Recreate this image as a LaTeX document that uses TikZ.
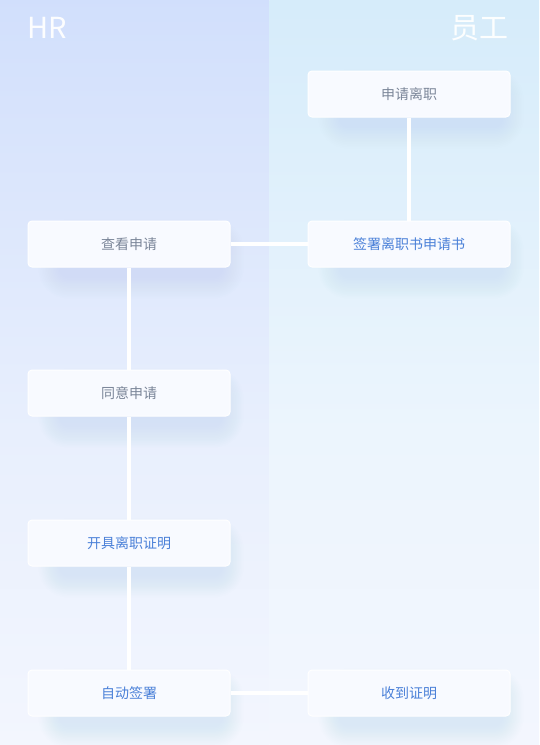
\documentclass[tikz,border=0pt]{standalone}
\usepackage{fontspec}
\newfontfamily\cjk{Noto Sans CJK SC}
\usetikzlibrary{positioning}
\pgfdeclarelayer{background}
\pgfdeclarelayer{edges}
\pgfsetlayers{background,edges,main}
\definecolor{leftTop}{HTML}{BDD2FA}
\definecolor{leftA}{HTML}{D7E3FC}
\definecolor{leftB}{HTML}{E8EFFD}
\definecolor{rightTop}{HTML}{C2E3F7}
\definecolor{rightA}{HTML}{DBEEFB}
\definecolor{rightB}{HTML}{ECF5FD}
\definecolor{lowC}{HTML}{F3F6FE}
\definecolor{bottomC}{HTML}{F8FAFF}
\definecolor{boxFill}{HTML}{F8FAFF}
\definecolor{grayText}{HTML}{7A8598}
\definecolor{blueText}{HTML}{4A80D8}
\definecolor{shadowC}{HTML}{9FBDF6}
\pgfdeclareverticalshading{leftshade}{100bp}{color(0bp)=(bottomC); color(25bp)=(lowC); color(46bp)=(leftB); color(68bp)=(leftA); color(100bp)=(leftTop)}
\pgfdeclareverticalshading{rightshade}{100bp}{color(0bp)=(bottomC); color(25bp)=(lowC); color(46bp)=(rightB); color(68bp)=(rightA); color(100bp)=(rightTop)}
\tikzset{
  stepbox/.style={draw=white, line width=1pt, fill=boxFill, rounded corners=4pt,
    minimum width=202pt, minimum height=46pt, inner sep=0pt, font=\cjk\fontsize{14}{16}\selectfont},
  graytxt/.style={text=grayText},
  bluetxt/.style={text=blueText},
  link/.style={draw=white, line width=4pt},
  header/.style={text=white, text opacity=0.95, font=\cjk\fontsize{29}{32}\selectfont, inner sep=0pt}
}
\begin{document}
\begin{tikzpicture}[x=1pt,y=-1pt]
\useasboundingbox (0,0) rectangle (539,745);
\begin{pgfonlayer}{background}
  \shade[shading=leftshade] (0,0) rectangle (269.5,745);
  \shade[shading=rightshade] (269.5,0) rectangle (539,745);
\end{pgfonlayer}

\node[header, anchor=west] (hr) at (27,28) {HR};
\node[header, anchor=east] (yg) at (509,28) {员工};

\node[stepbox, graytxt] (apply) at (409,94) {申请离职};
\node[stepbox, graytxt] (view) at (129,244) {查看申请};
\node[stepbox, bluetxt] (sign) at (409,244) {签署离职书申请书};
\node[stepbox, graytxt] (agree) at (129,393) {同意申请};
\node[stepbox, bluetxt] (issue) at (129,543) {开具离职证明};
\node[stepbox, bluetxt] (auto) at (129,693) {自动签署};
\node[stepbox, bluetxt] (recv) at (409,693) {收到证明};

\begin{pgfonlayer}{background}
  \foreach \n in {apply,view,sign,agree,issue,auto,recv}{
    \foreach \k in {0,...,13}{
      \fill[shadowC, opacity=0.016, rounded corners={8pt+1.6*\k pt}]
        ([xshift={32pt-1.6*\k pt}, yshift={-20pt+1.6*\k pt}]\n.north west)
        rectangle ([xshift={-8pt+1.6*\k pt}, yshift={-10pt-1.6*\k pt}]\n.south east);
    }
  }
\end{pgfonlayer}

\begin{pgfonlayer}{edges}
  \draw[link] (apply.south) -- (sign.north);
  \draw[link] (view.east) -- (sign.west);
  \draw[link] (view.south) -- (agree.north);
  \draw[link] (agree.south) -- (issue.north);
  \draw[link] (issue.south) -- (auto.north);
  \draw[link] (auto.east) -- (recv.west);
\end{pgfonlayer}
\end{tikzpicture}
\end{document}
